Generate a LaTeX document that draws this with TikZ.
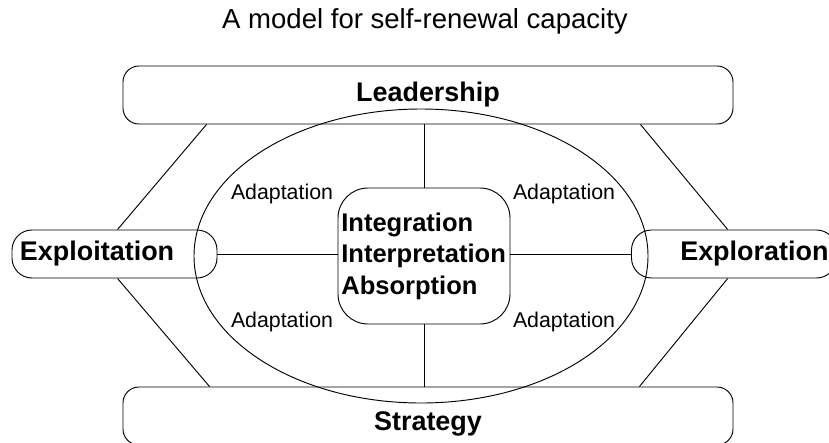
\documentclass[tikz,border=0pt]{standalone}
\usepackage{fontspec}
\setmainfont{Liberation Sans}
\usetikzlibrary{calc}

\tikzset{
    bar/.style={draw, rounded corners=0.48cm, minimum width=18.3cm, minimum height=1.74cm,
        font=\fontsize{23}{27}\selectfont\bfseries},
    sidebox/.style={draw, rounded corners=0.6cm, minimum height=1.44cm, text width=5.67cm,
        inner xsep=0.24cm, font=\fontsize{23}{27}\selectfont\bfseries},
    corebox/.style={draw, rounded corners=0.9cm, minimum width=5.16cm, minimum height=4.08cm,
        text width=4.96cm, inner xsep=0.1cm, align=left,
        font=\fontsize{21.8}{26.9}\selectfont\bfseries},
    adapt/.style={font=\fontsize{18.2}{22}\selectfont},
}

\begin{document}
\begin{tikzpicture}[x=0.03cm, y=-0.03cm, line width=0.8pt]
        \useasboundingbox (0,0) rectangle (829,443); % picture frame in px

        \node[anchor=base] (title) at (425,28) {\fontsize{23.5}{28}\selectfont A model for self-renewal capacity};

        \node[bar] (lead) at (428,95) {Leadership};
        \node[bar, text height=0.84cm, text depth=0pt] (strat) at (428,416) {Strategy};

        \node[sidebox, align=left] (expt) at (114.5,254) {Exploitation};
        \node[sidebox, align=right] (expr) at (734,254) {Exploration};

        \node[corebox] (core) at (424,256) {Integration\\Interpretation\\Absorption};

        % the big ring
        \draw (421,256) ellipse (6.81cm and 4.41cm);

        \node[adapt] (ad1) at (282,194) {Adaptation};
        \node[adapt] (ad2) at (564,194) {Adaptation};
        \node[adapt] (ad3) at (282,322) {Adaptation};
        \node[adapt] (ad4) at (564,322) {Adaptation};

        % spokes
        \draw (core.north) -- (core.north |- lead.south);
        \draw (core.south) -- (core.south |- strat.north);
        \draw (expt.east) -- (expt.east -| core.west);
        \draw (expr.west) -- (expr.west -| core.east);

        % outer frame
        \draw ([xshift=2.52cm]lead.south west) -- ([xshift=3.18cm]expt.north west);
        \draw ([xshift=-2.79cm]lead.south east) -- ([xshift=2.9cm]expr.north west);
        \draw ([xshift=3.18cm]expt.south west) -- ([xshift=2.61cm]strat.north west);
        \draw ([xshift=2.9cm]expr.south west) -- ([xshift=-2.82cm]strat.north east);
\end{tikzpicture}
\end{document}
